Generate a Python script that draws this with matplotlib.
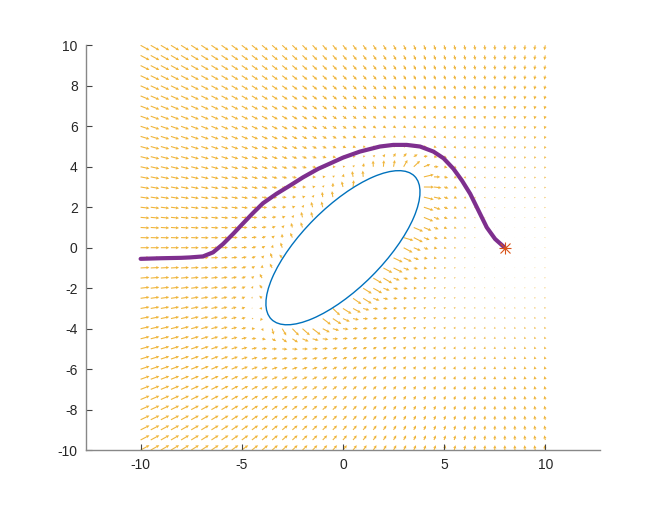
import numpy as np
import matplotlib.pyplot as plt
from matplotlib.patches import Ellipse

# ==========================================
# 1. SCENE DATA
# ==========================================
goal = (8.0, 0.0)
obst_center = (0.0, 0.0)
obst_axes = (5.0, 2.0)      # semi-axes
obst_angle = 45.0           # degrees

# robot path
path_x = [-10.0, -9.0, -8.0, -7.57, -6.92, -6.42, -5.93, -5.43, -4.94, -4.44,
          -3.95, -3.29, -2.62, -1.97, -1.22, -0.64, 0.0, 0.84, 1.83, 2.49,
          3.15, 3.81, 4.47, 4.97, 5.46, 5.88, 6.29, 6.70, 7.11, 7.52, 8.0]
path_y = [-0.55, -0.52, -0.5, -0.48, -0.43, -0.23, 0.18, 0.68, 1.2, 1.72,
          2.2, 2.66, 3.07, 3.48, 3.9, 4.16, 4.45, 4.75, 5.0, 5.08,
          5.08, 5.0, 4.75, 4.42, 3.9, 3.32, 2.66, 1.83, 1.0, 0.43, 0.0]

grid_vals = np.arange(-10, 10.01, 0.5)
tick_vals = [-10, -8, -6, -4, -2, 0, 2, 4, 6, 8, 10]
xtick_vals = [-10, -5, 0, 5, 10]

# ==========================================
# 2. POTENTIAL FIELD (goal attraction + obstacle repulsion)
# ==========================================
X, Y = np.meshgrid(grid_vals, grid_vals)
U = goal[0] - X
V = goal[1] - Y
att_max = np.nanmax(np.hypot(U, V))

# boundary samples of the ellipse -> nearest distance for every grid node
t = np.linspace(0, 2 * np.pi, 720, endpoint=False)
th = np.deg2rad(obst_angle)
a, b = obst_axes
bx = obst_center[0] + a * np.cos(t) * np.cos(th) - b * np.sin(t) * np.sin(th)
by = obst_center[1] + a * np.cos(t) * np.sin(th) + b * np.sin(t) * np.cos(th)
dx = X[..., None] - bx
dy = Y[..., None] - by
dist = np.hypot(dx, dy)
idx = dist.argmin(axis=-1)
d = np.take_along_axis(dist, idx[..., None], -1)[..., 0]
nx = np.take_along_axis(dx, idx[..., None], -1)[..., 0] / np.maximum(d, 1e-6)
ny = np.take_along_axis(dy, idx[..., None], -1)[..., 0] / np.maximum(d, 1e-6)

# inside test
xr = (X - obst_center[0]) * np.cos(th) + (Y - obst_center[1]) * np.sin(th)
yr = -(X - obst_center[0]) * np.sin(th) + (Y - obst_center[1]) * np.cos(th)
inside = (xr / a) ** 2 + (yr / b) ** 2 <= 1.0

d0 = 4.0
k_rep = 10.0
rep = np.where(d < d0, k_rep * (1.0 / np.maximum(d, 0.3) - 1.0 / d0), 0.0)
rep = np.minimum(rep, 18.0)
U = U + rep * nx
V = V + rep * ny
U[inside] = np.nan
V[inside] = np.nan

# keep arrows no longer than the far-field ones
mag = np.hypot(U, V)
clip = np.where(mag > att_max, att_max / mag, 1.0)
U = U * clip
V = V * clip

# MATLAB-like autoscale: longest arrow about one grid spacing
scale = att_max / 0.5

# ==========================================
# 3. PLOT
# ==========================================
fig = plt.figure(figsize=(6.64, 5.15), dpi=100)
ax = fig.add_axes([0.1295, 0.126, 0.774, 0.786])

ax.quiver(X, Y, U, V, color='#F0B53A', angles='xy', scale_units='xy', scale=scale,
          width=0.0021, headwidth=3.0, headlength=3.0, headaxislength=2.6,
          minlength=0.3, zorder=1)

ax.add_patch(Ellipse(obst_center, 2 * a, 2 * b, angle=obst_angle, fill=False,
                     edgecolor='#0072BD', lw=1.0, zorder=2))
ax.plot(path_x, path_y, color='#7E2F8E', lw=3, solid_capstyle='round',
        solid_joinstyle='round', zorder=3)
ax.plot(goal[0], goal[1], marker='+', color='#D95319', ms=9, mew=0.8,
        linestyle='none', zorder=4)
ax.plot(goal[0], goal[1], marker='x', color='#D95319', ms=7, mew=0.8,
        linestyle='none', zorder=4)

ax.set_xlim(-12.7, 12.7)
ax.set_ylim(-10, 10)
ax.set_xticks(xtick_vals)
ax.set_yticks(tick_vals)
ax.set_xticklabels([str(v) for v in xtick_vals])
ax.set_yticklabels([str(v) for v in tick_vals])

for s in ['top', 'right']:
    ax.spines[s].set_visible(False)
for s in ['left', 'bottom']:
    ax.spines[s].set_color('#888888')
    ax.spines[s].set_linewidth(1.0)
ax.tick_params(direction='in', length=4, width=0.8, color='#444444',
               labelsize=10, labelcolor='#262626', pad=6,
               labelfontfamily='Liberation Sans')

fig.savefig('out.png', dpi=100)
